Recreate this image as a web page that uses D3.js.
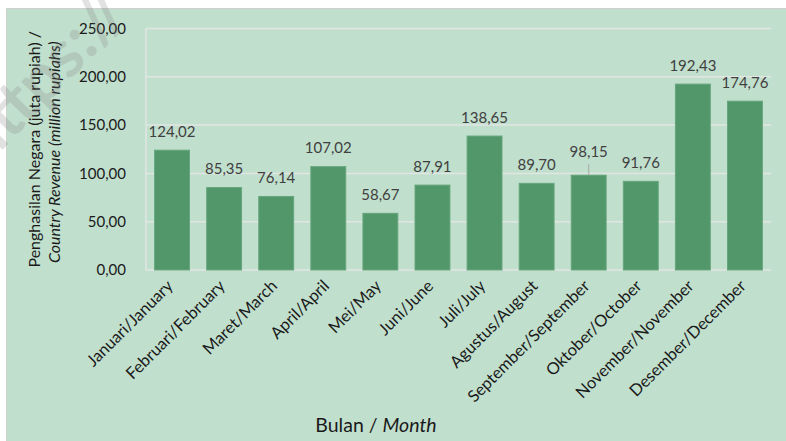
<!DOCTYPE html>
<html>
<head>
<meta charset="utf-8">
<script src="https://cdn.jsdelivr.net/npm/d3@7"></script>
<style>
  body { margin: 0; background: #ffffff; }
  svg { display: block; font-family: Lato, "Open Sans", sans-serif; }
</style>
</head>
<body>
<svg id="chart" width="786" height="441"></svg>
<script>
// data
const months = ["Januari/January", "Februari/February", "Maret/March", "April/April", "Mei/May", "Juni/June",
  "Juli/July", "Agustus/August", "September/September", "Oktober/October", "November/November", "Desember/December"];
const revenue = [124.02, 85.35, 76.14, 107.02, 58.67, 87.91, 138.65, 89.70, 98.15, 91.76, 192.43, 174.76];
const yTicks = [0, 50, 100, 150, 200, 250];

const svg = d3.select("#chart");
const margin = { left: 146, right: 15, top: 28.5, bottom: 171 };
const W = 786, H = 441;

// panel background
svg.append("rect")
  .attr("x", 6.5).attr("y", 8.5)
  .attr("width", W - 6).attr("height", H - 8)
  .attr("fill", "#c1dfcd")
  .attr("stroke", "#d0d0d0")
  .attr("stroke-width", 1);

const x = d3.scaleBand()
  .domain(months)
  .range([margin.left, W - margin.right])
  .paddingInner(0.33)
  .paddingOuter(0.165);

const y = d3.scaleLinear()
  .domain([0, 250])
  .range([H - margin.bottom, margin.top]);

const fmt = v => d3.format(".2f")(v).replace(".", ",");

// gridlines
svg.append("g")
  .selectAll("line")
  .data(yTicks)
  .enter()
  .append("line")
  .attr("x1", margin.left)
  .attr("x2", W - margin.right)
  .attr("y1", d => y(d))
  .attr("y2", d => y(d))
  .attr("stroke", "#e2e6e3")
  .attr("stroke-width", 1.5);

// y axis line
svg.append("line")
  .attr("x1", margin.left).attr("x2", margin.left)
  .attr("y1", y(250)).attr("y2", y(0))
  .attr("stroke", "#e2e6e3")
  .attr("stroke-width", 1.5);

// y tick labels
const yAxis = svg.append("g")
  .attr("transform", `translate(${margin.left - 17},0)`)
  .call(d3.axisLeft(y).tickValues(yTicks).tickFormat(fmt).tickSize(0));
yAxis.select(".domain").remove();
yAxis.selectAll("text")
  .attr("font-size", 15)
  .attr("fill", "#1a1a1a")
  .attr("font-family", "Lato, sans-serif");

// bars
svg.append("g")
  .selectAll("rect")
  .data(revenue)
  .enter()
  .append("rect")
  .attr("x", (d, i) => x(months[i]))
  .attr("y", d => y(d))
  .attr("width", x.bandwidth())
  .attr("height", d => y(0) - y(d))
  .attr("fill", "#52976a")
  .attr("stroke", "#66a67c")
  .attr("stroke-width", 1);

// data labels (September one sits higher, with a leader line)
const lift = i => (i === 8 ? 18 : 13.5);
svg.append("g")
  .selectAll("text")
  .data(revenue)
  .enter()
  .append("text")
  .attr("x", (d, i) => x(months[i]) + x.bandwidth() / 2)
  .attr("y", (d, i) => y(d) - lift(i))
  .attr("text-anchor", "middle")
  .attr("font-size", 15)
  .attr("fill", "#404040")
  .text(fmt);

svg.append("line")
  .attr("x1", x(months[8]) + x.bandwidth() / 2)
  .attr("x2", x(months[8]) + x.bandwidth() / 2)
  .attr("y1", y(revenue[8]) - 11)
  .attr("y2", y(revenue[8]))
  .attr("stroke", "#a6a6a6")
  .attr("stroke-width", 1);

// x tick labels, rotated
svg.append("g")
  .selectAll("text")
  .data(months)
  .enter()
  .append("text")
  .attr("transform", d => `translate(${x(d) + x.bandwidth() / 2 + 2},${y(0) + 17}) rotate(-45)`)
  .attr("text-anchor", "end")
  .attr("font-size", 16.5)
  .attr("fill", "#1a1a1a")
  .text(d => d);

// y axis title
const yt = svg.append("text")
  .attr("transform", `translate(0,${(y(0) + y(250)) / 2}) rotate(-90)`)
  .attr("text-anchor", "middle")
  .attr("font-size", 16)
  .attr("fill", "#1a1a1a");
yt.append("tspan").attr("x", 0).attr("y", 40).text("Penghasilan Negara (juta rupiah) /");
yt.append("tspan").attr("x", -3).attr("y", 60).attr("font-style", "italic").text("Country Revenue (million rupiahs)");

// x axis title
const xt = svg.append("text")
  .attr("x", 376).attr("y", 432)
  .attr("text-anchor", "middle")
  .attr("font-size", 19.5)
  .attr("fill", "#1a1a1a");
xt.append("tspan").text("Bulan / ");
xt.append("tspan").attr("font-style", "italic").text("Month");

// faint watermark
svg.append("text")
  .attr("transform", "translate(-15,168) rotate(-46)")
  .attr("font-size", 66)
  .attr("font-weight", "bold")
  .attr("fill", "#7a7a7a")
  .attr("opacity", 0.22)
  .text("https://");
</script>
</body>
</html>
